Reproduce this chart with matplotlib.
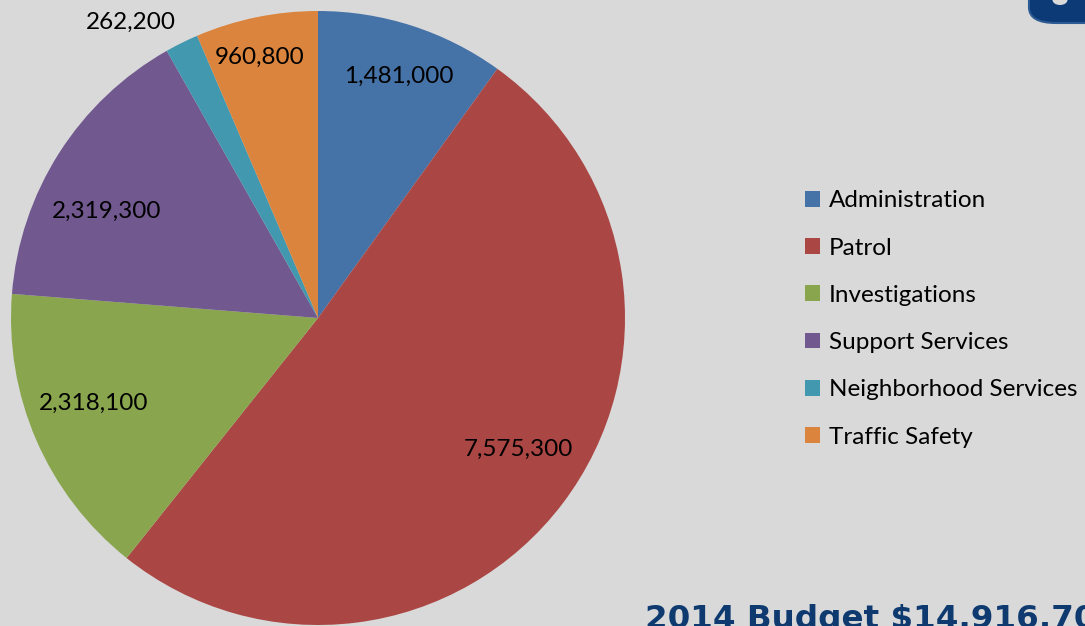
import numpy as np
import matplotlib.pyplot as plt
from matplotlib.patches import FancyBboxPatch, Ellipse, Patch

# budget by division
divisions = ["Administration", "Patrol", "Investigations", "Support Services",
             "Neighborhood Services", "Traffic Safety"]
amounts = [1481000, 7575300, 2318100, 2319300, 262200, 960800]
colors = ["#4572A7", "#AA4643", "#89A54E", "#71588F", "#4198AF", "#DB843D"]
title_text = "2014 Budget $14,916,700"

# label placement: radius (fraction of pie radius) and angle nudge (deg)
label_radius = [0.83, 0.78, 0.78, 0.77, 1.14, 0.87]
label_nudge = [-0.5, 3.8, -2.7, 5.8, 6.0, 1.0]

bg = "#D9D9D9"
W, H = 1085, 626
fig = plt.figure(figsize=(W / 100, H / 100), dpi=100, facecolor=bg)

# pie axes, centre (318,318) px, radius 307 px
cx, cy, r = 318, 318, 307
ax = fig.add_axes([(cx - r) / W, (H - cy - r) / H, 2 * r / W, 2 * r / H])
ax.set_facecolor(bg)
wedges, _ = ax.pie(amounts, colors=colors, startangle=90, counterclock=False,
                   radius=1, wedgeprops=dict(linewidth=0))
ax.set_xlim(-1, 1)
ax.set_ylim(-1, 1)
ax.set_aspect("equal")
ax.axis("off")

for w, val, lr, nd in zip(wedges, amounts, label_radius, label_nudge):
    mid = np.deg2rad((w.theta1 + w.theta2) / 2 + nd)
    ax.text(lr * np.cos(mid), lr * np.sin(mid), "{:,}".format(val),
            ha="center", va="center", fontsize=17.5, family="Lato",
            color="black", clip_on=False)

handles = [Patch(facecolor=c, edgecolor="none") for c in colors]
leg = fig.legend(handles, divisions, loc="center left",
                 bbox_to_anchor=(805 / W, 1 - 319 / H), frameon=False,
                 prop=dict(family="Lato", size=17.5), labelspacing=1.08,
                 handlelength=0.62, handleheight=0.62, handletextpad=0.37,
                 borderaxespad=0, borderpad=0)

# title at bottom (cut off by the image edge)
fig.text(645 / W, 1 - 604 / H, title_text, ha="left", va="top",
         fontsize=23.4, fontweight="bold", family="DejaVu Sans",
         color="#0E3A70")

# piece of a heading in the top-right corner
fig.patches.append(FancyBboxPatch((1029 / W, 1 - 23 / H), 90 / W, 60 / H,
                                  boxstyle="round,pad=0,rounding_size=0.025",
                                  transform=fig.transFigure,
                                  facecolor="#0B3A76", edgecolor="#2D5A92",
                                  linewidth=1.5))
fig.patches.append(Ellipse((1060 / W, 1 - 0 / H), 15 / W, 10 / H,
                           transform=fig.transFigure, facecolor=bg,
                           edgecolor="none"))

fig.savefig("out.png", dpi=100, facecolor=bg)
